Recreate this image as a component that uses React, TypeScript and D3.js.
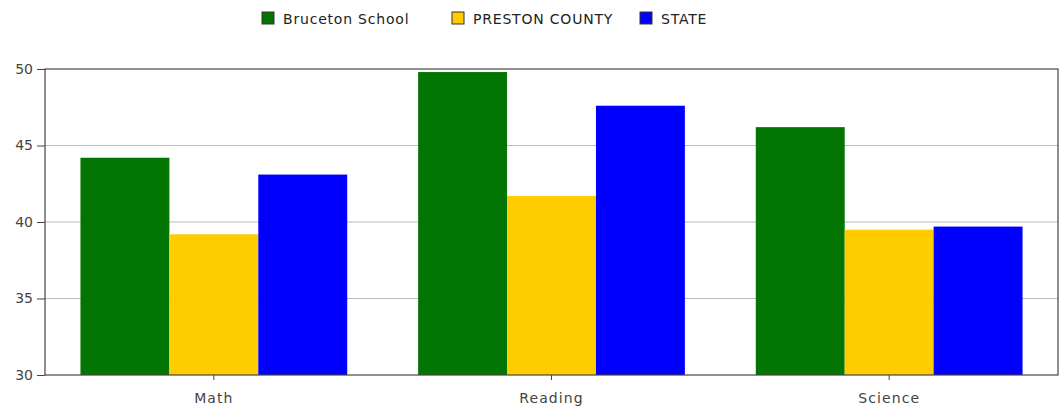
import React, { useEffect, useRef } from "react";
import * as d3 from "d3";

const categories = ["Math", "Reading", "Science"];
const seriesNames = ["Bruceton School", "PRESTON COUNTY", "STATE"];
const seriesColors = ["#037503", "#FFCC00", "#0000FF"];
const bruceton = [44.2, 49.8, 46.2];
const preston = [39.2, 41.7, 39.5];
const state = [43.1, 47.6, 39.7];
const yTicks = [30, 35, 40, 45, 50];

const W = 1062;
const H = 412;
const M = { left: 45, right: 4, top: 69, bottom: 37 };

export default function App() {
  const ref = useRef<SVGSVGElement>(null);
  useEffect(() => {
    const svg = d3.select(ref.current);
    svg.selectAll("*").remove();
    const values = [bruceton, preston, state];
    const x0 = d3
      .scaleBand<string>()
      .domain(categories)
      .range([M.left, W - M.right])
      .paddingInner(0.21)
      .paddingOuter(0.105);
    const x1 = d3
      .scaleBand<string>()
      .domain(seriesNames)
      .range([0, x0.bandwidth()]);
    const y = d3
      .scaleLinear()
      .domain([30, 50])
      .range([H - M.bottom, M.top]);
    const font = "'DejaVu Sans', Verdana, sans-serif";

    // gridlines
    svg
      .append("g")
      .selectAll("line")
      .data(yTicks.slice(1, -1))
      .join("line")
      .attr("x1", M.left)
      .attr("x2", W - M.right)
      .attr("y1", (d) => y(d))
      .attr("y2", (d) => y(d))
      .attr("stroke", "#bbbbbb")
      .attr("stroke-width", 1);

    // bars
    categories.forEach((c, ci) => {
      svg
        .append("g")
        .selectAll("rect")
        .data(seriesNames)
        .join("rect")
        .attr("x", (s) => (x0(c) as number) + (x1(s) as number))
        .attr("width", x1.bandwidth())
        .attr("y", (s, si) => y(values[si][ci]))
        .attr("height", (s, si) => y(30) - y(values[si][ci]))
        .attr("fill", (s, si) => seriesColors[si]);
    });

    // frame
    svg
      .append("rect")
      .attr("x", M.left)
      .attr("y", M.top)
      .attr("width", W - M.right - M.left)
      .attr("height", H - M.bottom - M.top)
      .attr("fill", "none")
      .attr("stroke", "#444444")
      .attr("stroke-width", 1.2);

    // y axis
    const yAxis = svg
      .append("g")
      .attr("transform", `translate(${M.left},0)`)
      .call(d3.axisLeft(y).tickValues(yTicks).tickSize(8).tickPadding(4));
    yAxis.select(".domain").remove();
    yAxis.selectAll("line").attr("stroke", "#444444");
    yAxis
      .selectAll("text")
      .attr("fill", "#444444")
      .style("font-family", font)
      .style("font-size", "14px");

    // x axis
    const xAxis = svg
      .append("g")
      .attr("transform", `translate(0,${H - M.bottom})`)
      .call(d3.axisBottom(x0).tickSize(5).tickPadding(13));
    xAxis.select(".domain").remove();
    xAxis.selectAll("line").attr("stroke", "#444444");
    xAxis
      .selectAll("text")
      .attr("fill", "#444444")
      .style("font-family", font)
      .style("font-size", "14px")
      .style("letter-spacing", "1.1px");

    // legend
    const legendX = [262, 452, 640];
    const lg = svg
      .append("g")
      .selectAll("g")
      .data(seriesNames)
      .join("g")
      .attr("transform", (d, i) => `translate(${legendX[i]},12)`);
    lg.append("rect")
      .attr("width", 12)
      .attr("height", 12)
      .attr("fill", (d, i) => seriesColors[i])
      .attr("stroke", "#333333")
      .attr("stroke-width", 1);
    lg.append("text")
      .attr("x", 21)
      .attr("y", 12)
      .text((d) => d)
      .attr("fill", "#222222")
      .style("font-family", font)
      .style("font-size", "14px")
      .style("letter-spacing", "0.8px");
  }, []);
  return (
    <svg
      ref={ref}
      width={W}
      height={H}
      style={{ position: "absolute", left: 0, top: 0, background: "#fff" }}
    />
  );
}
